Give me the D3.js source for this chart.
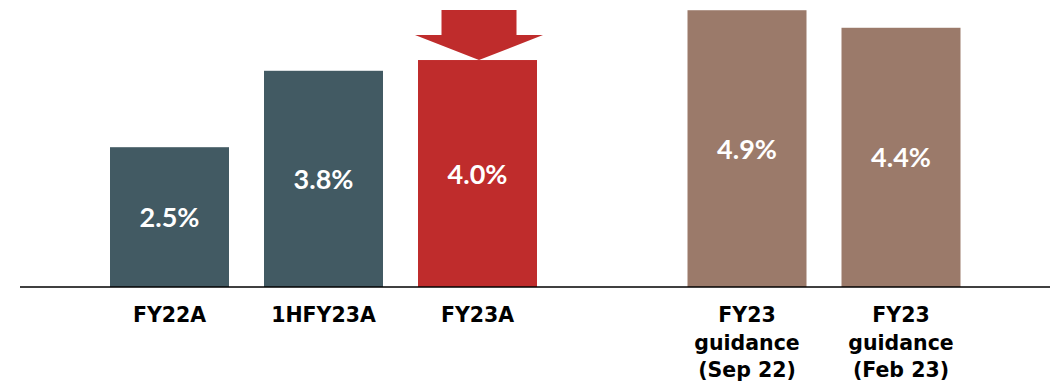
<!DOCTYPE html>
<html>
<head>
<meta charset="utf-8">
<script src="https://cdn.jsdelivr.net/npm/d3@7"></script>
<style>
  html, body { margin: 0; padding: 0; background: #fff; }
  svg { display: block; }
</style>
</head>
<body>
<svg id="chart" width="1061" height="386"></svg>
<script>
// Data
const categories = ["FY22A", "1HFY23A", "FY23A", "FY23 guidance (Sep 22)", "FY23 guidance (Feb 23)"];
const categoryLines = [["FY22A"], ["1HFY23A"], ["FY23A"], ["FY23", "guidance", "(Sep 22)"], ["FY23", "guidance", "(Feb 23)"]];
const values = [2.47, 3.82, 4.01, 4.89, 4.58];          // bar heights as drawn
const valueLabels = ["2.5%", "3.8%", "4.0%", "4.9%", "4.4%"];
const groups = ["actual", "actual", "highlight", "guidance", "guidance"];

const colors = { actual: "#425a63", highlight: "#bf2c2c", guidance: "#9b7a6a" };

const svg = d3.select("#chart");
const baseY = 287;
const slot = d3.scaleLinear().domain([0, 1]).range([110, 264]);
const barW = 119;
const slotIndex = i => i + (i >= 3 ? 0.75 : 0);
const y = d3.scaleLinear().domain([0, 5]).range([baseY, baseY - 5 * 56.6]);

const data = categories.map((c, i) => ({ c, i, v: values[i], label: valueLabels[i], g: groups[i], lines: categoryLines[i] }));

// Bars
svg.selectAll("rect.bar").data(data).enter().append("rect")
  .attr("class", "bar")
  .attr("x", d => slot(slotIndex(d.i)))
  .attr("width", barW)
  .attr("y", d => y(d.v))
  .attr("height", d => baseY - y(d.v))
  .attr("fill", d => colors[d.g]);

// Value labels
svg.selectAll("text.val").data(data).enter().append("text")
  .attr("class", "val")
  .attr("x", d => slot(slotIndex(d.i)) + barW / 2)
  .attr("y", d => (y(d.v) + baseY) / 2 + 10)
  .attr("text-anchor", "middle")
  .attr("fill", "#fff")
  .style("font-family", "Lato, 'Open Sans', sans-serif")
  .style("font-weight", "bold")
  .style("font-size", "27px")
  .text(d => d.label);

// Baseline axis
svg.append("line")
  .attr("x1", 20).attr("x2", 1050)
  .attr("y1", baseY).attr("y2", baseY)
  .attr("stroke", "#000").attr("stroke-width", 1.5);

// Category labels
const cat = svg.selectAll("text.cat").data(data).enter().append("text")
  .attr("class", "cat")
  .attr("x", d => slot(slotIndex(d.i)) + barW / 2)
  .attr("y", 322)
  .attr("text-anchor", "middle")
  .attr("fill", "#000")
  .style("font-family", "'DejaVu Sans', sans-serif")
  .style("font-weight", "bold")
  .style("font-size", "20.5px");
cat.selectAll("tspan").data(d => d.lines.map((t, k) => ({ t, k, x: slot(slotIndex(d.i)) + barW / 2 })))
  .enter().append("tspan")
  .attr("x", t => t.x)
  .attr("dy", t => t.k === 0 ? 0 : 27.5)
  .text(t => t.t);

// Downward arrow over the highlighted bar
const hi = data.find(d => d.g === "highlight");
const cx = slot(slotIndex(hi.i)) + barW / 2 + 1.5;
const tipY = y(hi.v);
const arrow = d3.path();
arrow.moveTo(cx - 37.5, tipY - 50);
arrow.lineTo(cx + 37.5, tipY - 50);
arrow.lineTo(cx + 37.5, tipY - 25);
arrow.lineTo(cx + 64, tipY - 25);
arrow.lineTo(cx, tipY);
arrow.lineTo(cx - 64, tipY - 25);
arrow.lineTo(cx - 37.5, tipY - 25);
arrow.closePath();
svg.append("path").attr("d", arrow.toString()).attr("fill", colors.highlight);
</script>
</body>
</html>
